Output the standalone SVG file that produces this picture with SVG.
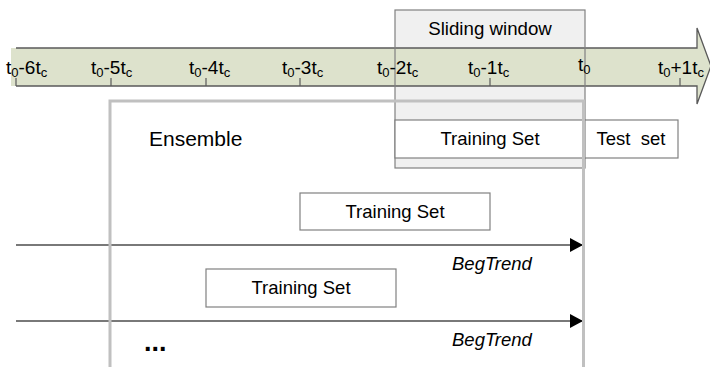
<svg xmlns="http://www.w3.org/2000/svg" width="710" height="367" viewBox="0 0 710 367">
<defs>
<style>
text{font-family:"Liberation Sans",Arial,sans-serif;fill:#000}
.lbl{font-size:19px}
.sub{font-size:13px}
.box{fill:#fff;stroke:#808080;stroke-width:1.2}
.bt{font-size:18.5px;text-anchor:middle}
.tick{stroke:#595959;stroke-width:1.2}
.conn{stroke:#4d4d4d;stroke-width:1.3;fill:none}
.it{font-size:18.5px;font-style:italic}
</style>
<marker id="ah" markerWidth="14" markerHeight="14" viewBox="0 0 14 14" refX="13" refY="7" orient="auto" markerUnits="userSpaceOnUse">
<path d="M0,0 L13,7 L0,14 Z" fill="#000"/>
</marker>
</defs>

<g id="sliding-window-fill">
<rect x="395" y="10" width="190" height="158" fill="#f0f0f0"/>
</g>

<g id="timeline">
<polygon points="11,48 697,48 697,28 711,66 697,104 697,86 11,86" fill="#dde2cc"/>
<path d="M16,48 H697 V28 L711,66 L697,104 V86 H16" fill="none" stroke="#595959" stroke-width="1.3"/>
<g class="tick">
<line x1="16" y1="78" x2="16" y2="86"/>
<line x1="111" y1="78" x2="111" y2="86"/>
<line x1="206" y1="78" x2="206" y2="86"/>
<line x1="300" y1="78" x2="300" y2="86"/>
<line x1="490" y1="78" x2="490" y2="86"/>
<line x1="680" y1="78" x2="680" y2="86"/>
</g>
</g>

<g id="sliding-window">
<rect x="395" y="10" width="190" height="158" fill="none" stroke="#808080" stroke-width="1.2"/>
<text x="490" y="35" style="font-size:18.7px;text-anchor:middle">Sliding window</text>
</g>

<g id="tick-labels">
<text x="6" y="74" class="lbl">t<tspan class="sub" dy="3">0</tspan><tspan dy="-3">-6t</tspan><tspan class="sub" dy="3">c</tspan></text>
<text x="91" y="74" class="lbl">t<tspan class="sub" dy="3">0</tspan><tspan dy="-3">-5t</tspan><tspan class="sub" dy="3">c</tspan></text>
<text x="189" y="74" class="lbl">t<tspan class="sub" dy="3">0</tspan><tspan dy="-3">-4t</tspan><tspan class="sub" dy="3">c</tspan></text>
<text x="282" y="74" class="lbl">t<tspan class="sub" dy="3">0</tspan><tspan dy="-3">-3t</tspan><tspan class="sub" dy="3">c</tspan></text>
<text x="377" y="74" class="lbl">t<tspan class="sub" dy="3">0</tspan><tspan dy="-3">-2t</tspan><tspan class="sub" dy="3">c</tspan></text>
<text x="468" y="74" class="lbl">t<tspan class="sub" dy="3">0</tspan><tspan dy="-3">-1t</tspan><tspan class="sub" dy="3">c</tspan></text>
<text x="578" y="71" class="lbl">t<tspan class="sub" dy="3">0</tspan></text>
<text x="658" y="74" class="lbl">t<tspan class="sub" dy="3">0</tspan><tspan dy="-3">+1t</tspan><tspan class="sub" dy="3">c</tspan></text>
</g>

<g id="training-set-1">
<rect class="box" x="395" y="120" width="190" height="38"/>
<text class="bt" x="490" y="145">Training Set</text>
</g>
<g id="test-set">
<rect class="box" x="585" y="120" width="93" height="38"/>
<text class="bt" x="631" y="145" xml:space="preserve">Test  set</text>
</g>
<g id="training-set-2">
<rect class="box" x="300" y="193" width="190" height="37"/>
<text class="bt" x="395" y="218">Training Set</text>
</g>
<g id="training-set-3">
<rect class="box" x="206" y="269" width="190" height="38"/>
<text class="bt" x="301" y="294">Training Set</text>
</g>

<g id="connectors">
<line class="conn" x1="16" y1="245" x2="583" y2="245" marker-end="url(#ah)"/>
<line class="conn" x1="16" y1="321" x2="583" y2="321" marker-end="url(#ah)"/>
</g>
<g id="labels">
<text class="it" x="452" y="270">BegTrend</text>
<text class="it" x="452" y="346">BegTrend</text>
</g>

<g id="ensemble">
<rect x="110" y="101" width="473.5" height="280" fill="none" stroke="#c0c0c0" stroke-width="3"/>
<text x="149" y="146" style="font-size:21px">Ensemble</text>
<text x="144" y="351" style="font-size:27px;font-weight:bold">...</text>
</g>
</svg>
